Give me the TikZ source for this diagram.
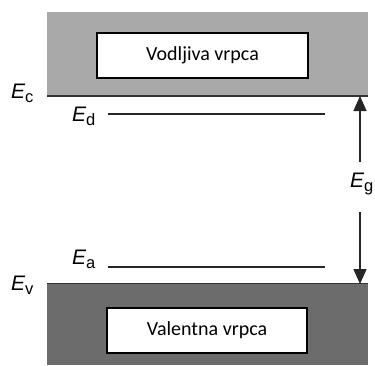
\documentclass[tikz,border=0pt]{standalone}
\usepackage{fontspec}
\setsansfont{Carlito}
\newfontfamily\lsans{Liberation Sans}
\usetikzlibrary{arrows.meta}
\definecolor{bandlight}{HTML}{A9A9A9}
\definecolor{banddark}{HTML}{6C6C6C}
\definecolor{edgeline}{HTML}{333333}
\newcommand{\EE}[1]{{\itshape E}\raisebox{-4.5pt}{\fontsize{16.5}{16.5}\selectfont #1}}
\tikzset{
  bandbox/.style={draw=black, line width=1.4pt, fill=white, font=\sffamily\fontsize{20}{20}\selectfont, inner sep=0pt},
  elabel/.style={anchor=base west, inner sep=0pt, font=\lsans\fontsize{21}{21}\selectfont},
  level/.style={draw=black!85, line width=1.3pt},
  edge/.style={draw=edgeline, line width=1.3pt},
  gaparrow/.style={draw=black!85, line width=1.3pt, -{Triangle[length=15pt,width=13pt]}}
}
\begin{document}
\begin{tikzpicture}[x=1pt,y=-1pt]
\useasboundingbox (0,0) rectangle (375,365);
% bands
\fill[bandlight] (47,12) rectangle (368,96);
\fill[banddark] (47,283) rectangle (368,365);
\coordinate (cl) at (47,96);
\coordinate (cr) at (368,96);
\coordinate (vl) at (47,283.5);
\coordinate (vr) at (368,283.5);
\draw[edge] (cl) -- (cr);
\draw[edge] (vl) -- (vr);
% band labels
\node[bandbox, minimum width=211pt, minimum height=45pt] (cbox) at (202.5,55.5) {Vodljiva vrpca};
\node[bandbox, minimum width=200pt, minimum height=45pt] (vbox) at (207,330.5) {Valentna vrpca};
% energy labels
\node[elabel] (Ec) at (11,98) {\EE{c}};
\node[elabel] (Ed) at (72,121) {\EE{d}};
\node[elabel] (Ea) at (72,264) {\EE{a}};
\node[elabel] (Ev) at (11,290) {\EE{v}};
\node[elabel] (Eg) at (350,187) {\EE{g}};
% levels
\coordinate (ed1) at (108,114);
\coordinate (ed2) at (325,114);
\coordinate (ea1) at (108,267);
\coordinate (ea2) at (325,267);
\draw[level] (ed1) -- (ed2);
\draw[level] (ea1) -- (ea2);
% gap arrows
\coordinate (gt) at (360,162);
\coordinate (gb) at (360,212);
\coordinate (gtop) at (360,96);
\coordinate (gbot) at (360,284);
\draw[gaparrow] (gt) -- (gtop);
\draw[gaparrow] (gb) -- (gbot);
\end{tikzpicture}
\end{document}
